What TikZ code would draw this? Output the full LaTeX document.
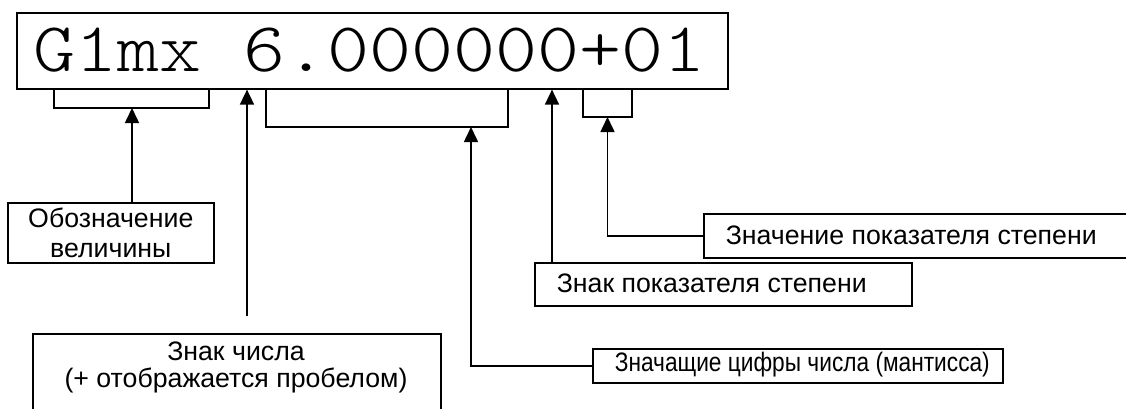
\documentclass[tikz,border=0pt]{standalone}
\usepackage{fontspec}
\setmainfont{Liberation Sans}
\newfontfamily\topfont[FakeStretch=1.143]{Latin Modern Mono Light}
\newfontfamily\narrowfont[FakeStretch=0.85]{Liberation Sans}
\usetikzlibrary{arrows.meta}
\begin{document}
\begin{tikzpicture}[x=1pt,y=-1pt,line width=1.6pt,
  box/.style={draw,inner sep=0pt,line width=1.6pt},
  lbl/.style={inner sep=0pt,font=\fontsize{26.7}{30}\selectfont},
  arr/.style={-{Triangle[length=15pt,width=14pt]}},
  ]
\useasboundingbox (0,0) rectangle (1126,408);
\clip (0,0) rectangle (1126,408);
% top box
\node[box,anchor=north west,minimum width=711pt,minimum height=76pt] (top) at (16,12) {};
\node[inner sep=0pt,anchor=base west,font=\topfont\fontsize{70}{70}\selectfont] (val) at (33,71) {G1mx 6.000000+01};
% brackets
\coordinate (b1) at (132,108);
\coordinate (b2) at (471,127);
\coordinate (b3) at (607.5,117);
\draw (54,88) -- (54,108) -- (209,108) -- (209,88);
\draw (266,88) -- (266,127) -- (508,127) -- (508,88);
\draw (583,88) -- (583,117) -- (632,117) -- (632,88);
% label boxes
\node[box,anchor=north west,minimum width=206pt,minimum height=60pt] (obo) at (7,202) {};
\node[lbl,align=center] (obot) at (obo.center) {Обозначение\\величины};
\node[box,anchor=north west,minimum width=408pt,minimum height=100pt] (zch) at (32,333) {};
\node[lbl,align=center,anchor=north,font=\fontsize{26.7}{27}\selectfont] (zcht) at (236,341) {Знак числа\\(+ отображается пробелом)};
\node[box,anchor=north west,minimum width=377pt,minimum height=43pt] (zpok) at (534,262) {};
\node[lbl,anchor=west] (zpokt) at (556,283.5) {Знак показателя степени};
\node[box,anchor=north west,minimum width=440pt,minimum height=44pt] (zzn) at (703,213) {};
\node[lbl,anchor=west] (zznt) at (725,235) {Значение показателя степени};
\node[box,anchor=north west,minimum width=410pt,minimum height=34pt] (zman) at (592,348) {};
\node[lbl,anchor=west,font=\narrowfont\fontsize{26.7}{30}\selectfont] (zmant) at (614,365) {Значащие цифры числа (мантисса)};
% connectors
\coordinate (s2) at (247,316);
\draw[arr] (obo.north -| b1) -- (b1);
\draw[arr] (s2) -- (s2 |- top.south);
\draw[arr] (zman.west) -| (b2);
\coordinate (s3) at ([xshift=18pt]zpok.north west);
\draw[arr] (s3) -- (s3 |- top.south);
\draw[arr] (zzn.west) -| (b3);
\end{tikzpicture}
\end{document}
